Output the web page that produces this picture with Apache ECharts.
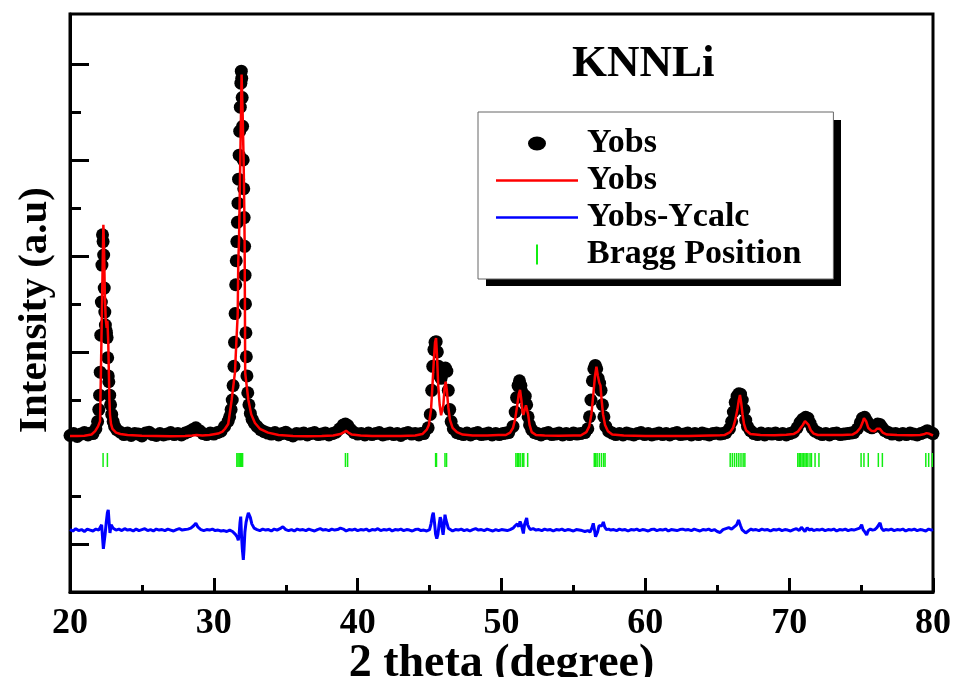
<!DOCTYPE html>
<html>
<head>
<meta charset="utf-8">
<title>KNNLi Rietveld</title>
<script src="https://cdn.jsdelivr.net/npm/echarts@6/dist/echarts.min.js"></script>
<style>
  html, body { margin: 0; padding: 0; background: #fff; }
  #chart { width: 957px; height: 677px; }
</style>
</head>
<body>
<div id="chart"></div>
<script>
// y axis ticks (no labels in the figure); the one at 3000 sits under the data band
const majorTicks = [1000, 5000, 7000, 9000, 11000]
const minorTicks = [2000, 4000, 6000, 8000, 10000]

// observed pattern, background between peaks  [2theta, intensity]
const obsBackground = [
  [20.0,3260],[20.25,3300],[20.5,3240],[20.75,3290],[21.0,3320],[21.25,3270],[21.45,3310],
  [23.5,3330],[23.75,3280],[24.0,3310],[24.25,3260],[24.5,3300],[24.75,3290],[25.0,3250],[25.25,3310],
  [25.5,3330],[25.75,3280],[26.0,3260],[26.25,3300],[26.5,3270],[26.75,3290],[27.0,3320],[27.25,3280],
  [27.5,3300],[27.75,3270],[28.0,3310],[28.25,3340],[28.5,3380],[28.75,3420],[29.0,3360],[29.25,3300],
  [29.5,3280],[29.75,3310],[30.0,3290],[30.25,3320],[30.5,3350],[30.75,3450],[31.0,3560],
  [33.25,3380],[33.5,3340],[33.75,3310],[34.0,3290],[34.25,3320],[34.5,3270],[34.75,3300],[35.0,3330],
  [35.25,3280],[35.5,3250],[35.75,3300],[36.0,3290],[36.25,3310],[36.5,3270],[36.75,3300],[37.0,3320],
  [37.25,3280],[37.5,3290],[37.75,3310],[38.0,3270],[38.25,3300],[38.5,3330],[38.75,3400],[39.0,3480],
  [39.15,3500],[39.3,3470],[39.5,3390],[39.75,3320],[40.0,3290],[40.25,3300],[40.5,3270],[40.75,3310],
  [41.0,3280],[41.25,3300],[41.5,3320],[41.75,3270],[42.0,3290],[42.25,3310],[42.5,3280],[42.75,3300],
  [43.0,3260],[43.25,3300],[43.5,3320],[43.75,3290],[44.0,3300],[44.25,3270],[44.4,3300],
  [47.1,3300],[47.35,3280],[47.6,3310],[47.85,3270],[48.1,3300],[48.35,3320],[48.6,3280],[48.85,3290],
  [49.1,3310],[49.35,3270],[49.6,3300],[49.85,3280],[50.1,3300],[50.3,3310],
  [52.5,3300],[52.75,3270],[53.0,3300],[53.25,3320],[53.5,3280],[53.75,3290],[54.0,3310],[54.25,3270],
  [54.5,3300],[54.75,3280],[55.0,3310],[55.25,3290],[55.5,3300],
  [57.7,3310],[57.95,3280],[58.2,3300],[58.45,3270],[58.7,3310],[58.95,3290],[59.2,3270],[59.45,3300],
  [59.7,3320],[59.95,3280],[60.2,3300],[60.45,3270],[60.7,3290],[60.95,3310],[61.2,3280],[61.45,3300],
  [61.7,3270],[61.95,3300],[62.2,3320],[62.45,3280],[62.7,3290],[62.95,3310],[63.2,3270],[63.45,3300],
  [63.7,3280],[63.95,3310],[64.2,3290],[64.45,3270],[64.7,3300],[64.95,3310],[65.2,3290],[65.4,3300],
  [67.55,3300],[67.8,3280],[68.05,3310],[68.3,3270],[68.55,3300],[68.8,3290],[69.05,3310],[69.3,3280],
  [69.55,3300],[69.8,3270],[70.05,3300],
  [72.05,3310],[72.3,3280],[72.55,3300],[72.8,3270],[73.05,3300],[73.3,3310],[73.55,3280],[73.8,3290],
  [74.05,3300],[74.3,3310],
  [77.15,3290],[77.4,3300],[77.65,3270],[77.9,3300],[78.15,3280],[78.4,3310],[78.65,3290],[78.9,3270],
  [79.15,3300],[79.4,3330],[79.6,3360],[79.8,3330],[80.0,3300]
]

// observed pattern, peak regions
const obs22 = [
  [21.6,3300],[21.8,3400],[21.92,3550],[22.0,3800],[22.06,4100],[22.1,4580],[22.14,5350],[22.18,6040],
  [22.22,6810],[22.26,7440],[22.3,7300],[22.34,7020],[22.38,6330],[22.42,5830],[22.46,5560],[22.5,5450],
  [22.54,5400],[22.58,5300],[22.62,4880],[22.66,4500],[22.7,4380],[22.76,4100],[22.82,3900],[22.9,3700],
  [23.0,3550],[23.1,3450],[23.25,3380]
]
const obs32 = [
  [31.1,3650],[31.2,3800],[31.28,4000],[31.34,4300],[31.4,4700],[31.44,5200],[31.48,5800],[31.52,6400],
  [31.56,6900],[31.6,7300],[31.64,7700],[31.68,8100],[31.72,8600],[31.76,9100],[31.8,9600],[31.84,10100],
  [31.88,10600],[31.91,10850],[31.94,10700],[31.97,10300],[32.0,9700],[32.04,9000],[32.08,8400],
  [32.11,7800],[32.14,7200],[32.17,6600],[32.2,6000],[32.23,5400],[32.26,4900],[32.3,4500],[32.36,4150],
  [32.44,3900],[32.54,3720],[32.66,3600],[32.8,3520],[33.0,3450]
]
const obs45 = [
  [44.6,3300],[44.9,3420],[45.05,3700],[45.15,4200],[45.22,4700],[45.3,5050],[45.38,5200],[45.46,5215],
  [45.54,5000],[45.62,4700],[45.7,4500],[45.8,4450],[45.9,4550],[46.0,4650],[46.1,4666],[46.2,4600],
  [46.3,4200],[46.4,3800],[46.5,3550],[46.65,3400],[46.9,3320]
]
const obs51 = [
  [50.5,3320],[50.8,3450],[50.95,3750],[51.05,4050],[51.15,4300],[51.25,4400],[51.35,4300],[51.45,4150],
  [51.55,4100],[51.65,4080],[51.75,3900],[51.85,3650],[51.95,3480],[52.1,3380],[52.3,3320]
]
const obs56 = [
  [55.8,3320],[56.0,3400],[56.12,3650],[56.22,4000],[56.32,4400],[56.42,4650],[56.52,4720],[56.62,4650],
  [56.72,4450],[56.82,4350],[56.92,4200],[57.02,3900],[57.12,3650],[57.25,3450],[57.45,3350]
]
const obs66 = [
  [65.6,3320],[65.85,3400],[66.0,3550],[66.12,3750],[66.25,3950],[66.38,4080],[66.5,4130],[66.62,4120],
  [66.74,4000],[66.86,3800],[66.98,3580],[67.1,3450],[67.3,3360]
]
const obs71 = [
  [70.3,3330],[70.55,3420],[70.75,3530],[70.95,3600],[71.15,3640],[71.3,3620],[71.45,3520],[71.6,3420],
  [71.8,3350]
]
const obs75 = [
  [74.5,3320],[74.75,3400],[74.95,3530],[75.1,3620],[75.25,3640],[75.4,3560],[75.55,3450],[75.75,3420],
  [75.95,3450],[76.15,3500],[76.3,3490],[76.45,3430],[76.65,3360],[76.9,3320]
]

// calculated profile (red line)
const calcProfile = [
  [20.0,3250],[20.5,3250],[21.0,3255],[21.5,3280],[21.75,3350],[21.95,3450],[22.09,3560],[22.15,4600],
  [22.2,5500],[22.26,6600],[22.32,7650],[22.37,7100],[22.42,6200],[22.48,5700],[22.55,5500],[22.6,5650],
  [22.66,5200],[22.7,4600],[22.74,4000],[22.78,3690],[22.85,3500],[22.95,3400],[23.2,3320],[23.5,3290],
  [24.0,3270],[25.0,3255],[26.0,3250],[27.0,3245],[28.0,3250],[28.5,3260],[28.8,3270],[29.2,3260],
  [29.7,3270],[30.0,3285],[30.3,3300],[30.6,3340],[30.78,3400],[31.0,3500],[31.24,4000],[31.47,4580],
  [31.58,5300],[31.66,5780],[31.7,6900],[31.75,7300],[31.84,9000],[31.93,10780],[32.0,10000],
  [32.07,9000],[32.12,7900],[32.14,7300],[32.16,6000],[32.18,4560],[32.4,4000],[32.6,3700],[32.86,3520],
  [33.2,3400],[33.77,3320],[34.5,3270],[35.5,3250],[36.5,3245],[37.5,3250],[38.3,3260],[38.8,3290],
  [39.05,3330],[39.2,3360],[39.35,3320],[39.6,3280],[40.2,3260],[41.0,3250],[42.0,3250],[43.0,3250],
  [44.0,3260],[44.5,3290],[44.8,3380],[44.95,3480],[45.1,3800],[45.2,4300],[45.3,4850],[45.38,5200],
  [45.45,5290],[45.52,4900],[45.6,4300],[45.7,3900],[45.8,3680],[45.88,3700],[45.96,3900],[46.04,4250],
  [46.12,4380],[46.2,4200],[46.3,3850],[46.42,3580],[46.6,3420],[46.9,3330],[47.3,3280],[48.0,3260],
  [49.0,3260],[49.8,3270],[50.3,3270],[50.6,3320],[50.8,3420],[50.95,3600],[51.1,3900],[51.2,4120],
  [51.29,4208],[51.38,4000],[51.46,3750],[51.52,3690],[51.6,3780],[51.7,3890],[51.76,3900],[51.85,3700],
  [51.95,3480],[52.1,3330],[52.4,3270],[53.0,3260],[54.0,3255],[55.0,3260],[55.5,3260],[55.9,3330],
  [56.1,3450],[56.25,3700],[56.38,4100],[56.5,4500],[56.6,4694],[56.7,4500],[56.8,4360],[56.88,4300],
  [56.96,4000],[57.06,3700],[57.2,3480],[57.4,3350],[57.7,3280],[58.5,3260],[60.0,3250],[61.5,3250],
  [63.0,3250],[64.5,3260],[65.2,3265],[65.5,3270],[65.9,3330],[66.1,3420],[66.25,3580],[66.4,3800],
  [66.5,4000],[66.58,4104],[66.66,3950],[66.76,3700],[66.86,3500],[67.0,3370],[67.3,3290],[68.0,3270],
  [69.0,3265],[69.8,3275],[70.3,3290],[70.6,3340],[70.8,3420],[70.95,3480],[71.1,3560],[71.22,3590],
  [71.35,3480],[71.5,3370],[71.7,3300],[72.0,3270],[72.8,3270],[73.7,3270],[74.4,3280],[74.7,3330],
  [74.95,3420],[75.1,3530],[75.2,3620],[75.27,3650],[75.36,3550],[75.5,3420],[75.7,3360],[75.95,3350],
  [76.1,3400],[76.2,3440],[76.3,3400],[76.5,3320],[76.8,3280],[77.5,3270],[78.5,3265],[79.1,3270],
  [79.35,3285],[79.55,3310],[79.75,3295],[80.0,3260]
]

// difference curve (blue)
const diffCurve = [
  [20.0,1300],[20.2,1270],[20.4,1320],[20.6,1280],[20.8,1300],[21.0,1260],[21.2,1310],[21.4,1290],
  [21.6,1270],[21.8,1310],[22.0,1290],[22.12,1330],[22.2,1400],[22.26,1150],[22.32,900],[22.37,880],
  [22.44,1200],[22.52,1450],[22.6,1650],[22.66,1710],[22.72,1450],[22.78,1230],[22.86,1400],[22.92,1440],
  [23.0,1330],[23.1,1300],[23.2,1290],[23.4,1310],[23.6,1280],[23.8,1320],[24.0,1290],[24.2,1300],
  [24.4,1270],[24.6,1310],[24.8,1280],[25.0,1300],[25.2,1320],[25.4,1280],[25.6,1300],[25.8,1270],
  [26.0,1310],[26.2,1290],[26.4,1300],[26.6,1280],[26.8,1310],[27.0,1290],[27.2,1270],[27.4,1300],
  [27.6,1320],[27.8,1290],[28.0,1300],[28.2,1310],[28.4,1330],[28.6,1380],[28.75,1430],[28.9,1350],
  [29.1,1300],[29.3,1280],[29.5,1300],[29.7,1290],[29.9,1310],[30.1,1280],[30.3,1290],[30.5,1270],
  [30.7,1280],[30.9,1260],[31.1,1290],[31.3,1260],[31.5,1200],[31.62,1150],[31.7,1080],[31.76,1200],
  [31.82,1450],[31.87,1570],[31.92,1200],[31.98,900],[32.05,670],[32.1,900],[32.16,1250],[32.24,1450],
  [32.32,1560],[32.4,1650],[32.46,1670],[32.54,1550],[32.64,1420],[32.8,1330],[33.0,1300],[33.2,1280],
  [33.4,1310],[33.6,1290],[33.8,1300],[34.0,1270],[34.2,1310],[34.4,1290],[34.6,1320],[34.8,1360],
  [35.0,1300],[35.2,1280],[35.4,1300],[35.6,1270],[35.8,1310],[36.0,1290],[36.2,1300],[36.4,1280],
  [36.6,1310],[36.8,1290],[37.0,1270],[37.2,1300],[37.4,1320],[37.6,1290],[37.8,1300],[38.0,1280],
  [38.2,1310],[38.4,1290],[38.6,1300],[38.8,1330],[39.0,1310],[39.2,1270],[39.4,1300],[39.6,1290],
  [39.8,1310],[40.0,1280],[40.2,1300],[40.4,1290],[40.6,1310],[40.8,1270],[41.0,1300],[41.2,1290],
  [41.4,1320],[41.6,1280],[41.8,1300],[42.0,1290],[42.2,1310],[42.4,1270],[42.6,1300],[42.8,1290],
  [43.0,1310],[43.2,1280],[43.4,1300],[43.6,1290],[43.8,1270],[44.0,1300],[44.2,1310],[44.4,1280],
  [44.6,1290],[44.8,1270],[45.0,1300],[45.1,1420],[45.2,1600],[45.26,1650],[45.34,1450],[45.42,1200],
  [45.5,1110],[45.58,1200],[45.66,1400],[45.74,1560],[45.8,1500],[45.88,1300],[45.94,1190],[46.0,1350],
  [46.07,1610],[46.14,1500],[46.22,1420],[46.3,1330],[46.42,1300],[46.6,1270],[46.8,1300],[47.0,1290],
  [47.2,1310],[47.4,1280],[47.6,1300],[47.8,1270],[48.0,1300],[48.2,1320],[48.4,1290],[48.6,1300],
  [48.8,1280],[49.0,1310],[49.2,1290],[49.4,1270],[49.6,1300],[49.8,1280],[50.0,1300],[50.2,1290],
  [50.4,1280],[50.6,1300],[50.8,1330],[50.95,1380],[51.1,1420],[51.2,1360],[51.29,1470],[51.38,1400],
  [51.46,1300],[51.52,1220],[51.6,1400],[51.68,1480],[51.75,1540],[51.82,1400],[51.9,1350],[52.0,1300],
  [52.2,1320],[52.4,1290],[52.6,1300],[52.8,1280],[53.0,1310],[53.2,1290],[53.4,1300],[53.6,1270],
  [53.8,1300],[54.0,1290],[54.2,1310],[54.4,1280],[54.6,1300],[54.8,1290],[55.0,1270],[55.2,1300],
  [55.4,1290],[55.6,1280],[55.8,1260],[56.0,1280],[56.15,1250],[56.28,1330],[56.38,1430],[56.46,1300],
  [56.54,1150],[56.6,1120],[56.68,1250],[56.78,1380],[56.88,1420],[56.98,1380],[57.08,1460],[57.18,1350],
  [57.3,1300],[57.45,1310],[57.6,1290],[57.8,1300],[58.0,1280],[58.2,1310],[58.4,1290],[58.6,1300],
  [58.8,1270],[59.0,1300],[59.2,1290],[59.4,1310],[59.6,1280],[59.8,1300],[60.0,1290],[60.2,1270],
  [60.4,1300],[60.6,1310],[60.8,1280],[61.0,1300],[61.2,1290],[61.4,1310],[61.6,1270],[61.8,1300],
  [62.0,1290],[62.2,1280],[62.4,1300],[62.6,1310],[62.8,1290],[63.0,1300],[63.2,1280],[63.4,1310],
  [63.6,1290],[63.8,1270],[64.0,1300],[64.2,1290],[64.4,1310],[64.6,1280],[64.8,1300],[65.0,1260],
  [65.2,1240],[65.4,1300],[65.6,1320],[65.8,1340],[66.0,1310],[66.2,1360],[66.35,1400],[66.48,1500],
  [66.54,1520],[66.62,1380],[66.72,1300],[66.85,1260],[66.98,1230],[67.09,1210],[67.2,1280],[67.35,1310],
  [67.5,1290],[67.7,1300],[67.9,1280],[68.1,1310],[68.3,1290],[68.5,1300],[68.7,1270],[68.9,1300],
  [69.1,1290],[69.3,1310],[69.5,1280],[69.7,1300],[69.9,1290],[70.1,1270],[70.3,1300],[70.5,1320],
  [70.7,1280],[70.85,1350],[70.98,1330],[71.1,1260],[71.25,1340],[71.4,1290],[71.55,1310],[71.7,1280],
  [71.9,1300],[72.1,1290],[72.3,1310],[72.5,1280],[72.7,1300],[72.9,1290],[73.1,1310],[73.3,1270],
  [73.5,1300],[73.7,1290],[73.9,1310],[74.1,1280],[74.3,1300],[74.5,1290],[74.7,1310],[74.9,1330],
  [75.04,1400],[75.14,1300],[75.26,1250],[75.39,1190],[75.5,1280],[75.65,1310],[75.8,1290],[75.95,1300],
  [76.1,1340],[76.22,1380],[76.32,1440],[76.42,1330],[76.55,1280],[76.7,1300],[76.9,1290],[77.1,1310],
  [77.3,1280],[77.5,1300],[77.7,1290],[77.9,1310],[78.1,1270],[78.3,1300],[78.5,1290],[78.7,1310],
  [78.9,1280],[79.1,1300],[79.3,1290],[79.5,1270],[79.7,1310],[79.9,1290],[80.0,1300]
]

// Bragg reflection positions (2theta) and the level the markers sit at
const braggPositions = [
  22.3, 22.6, 31.6, 31.68, 31.76, 31.84, 31.92, 32.0, 39.15, 39.3,
  45.42, 45.48, 46.07, 46.18, 51.0, 51.1, 51.2, 51.3, 51.45, 51.55, 51.82,
  56.45, 56.55, 56.65, 56.8, 56.95, 57.1, 57.2,
  65.9, 66.05, 66.2, 66.35, 66.5, 66.65, 66.8, 66.92,
  70.6, 70.7, 70.8, 70.9, 71.0, 71.1, 71.2, 71.3, 71.45, 71.55, 71.8, 72.07,
  75.0, 75.2, 75.5, 76.2, 76.48, 79.5, 79.7, 79.95
]
const braggLevel = 2750

const serif = '"Liberation Serif", "Times New Roman", serif'

const chart = echarts.init(document.getElementById('chart'))

const yObs = [].concat(obsBackground, obs22, obs32, obs45, obs51, obs56, obs66, obs71, obs75)
const braggData = braggPositions.map(function (x) { return [x, braggLevel] })
const legendText = { 'Ycalc': 'Yobs' }

// legend icons, padded with moveTo points so they keep their size inside the 82x20 box
const lineIcon = 'path://M0,0M82,20M0,8.8h82v2.4h-82z'

chart.setOption({
  animation: false,
  backgroundColor: '#fff',
  title: {
    text: 'KNNLi',
    left: 572,
    top: 42,
    padding: 0,
    textStyle: { fontFamily: serif, fontWeight: 'bold', fontSize: 45, color: '#000' }
  },
  // drop shadow behind the legend box
  graphic: [{
    type: 'rect',
    left: 486,
    top: 120,
    z: 0,
    shape: { width: 355, height: 166 },
    style: { fill: '#000' }
  }],
  legend: {
    orient: 'vertical',
    left: 478,
    top: 112,
    z: 10,
    padding: [13, 32, 6, 18],
    itemWidth: 82,
    itemHeight: 20,
    itemGap: 0,
    backgroundColor: '#fff',
    borderColor: '#666',
    borderWidth: 1,
    borderRadius: 0,
    textStyle: { fontFamily: serif, fontWeight: 'bold', fontSize: 34, color: '#000', lineHeight: 37, padding: [0, 0, 0, 4] },
    formatter: function (name) { return legendText[name] || name },
    data: [
      { name: 'Yobs', icon: 'path://M0,0M82,20M32,10a9,7 0 1,0 18,0a9,7 0 1,0 -18,0' },
      { name: 'Ycalc', icon: lineIcon },
      { name: 'Yobs-Ycalc', icon: lineIcon },
      { name: 'Bragg Position', icon: 'path://M0,0M82,20M40,0h2v20h-2z' }
    ]
  },
  grid: {
    left: 70,
    right: 24,
    top: 14,
    bottom: 85,
    show: true,
    borderColor: '#000',
    borderWidth: 3,
    outerBoundsMode: 'none'
  },
  xAxis: {
    type: 'value',
    min: 20,
    max: 80,
    interval: 10,
    name: '2 theta (degree)',
    nameLocation: 'middle',
    nameGap: 49,
    nameMoveOverlap: false,
    nameTextStyle: { fontFamily: serif, fontWeight: 'bold', fontSize: 46, color: '#000' },
    axisLine: { onZero: false, lineStyle: { color: '#000', width: 3 } },
    axisTick: { inside: true, length: 14, lineStyle: { color: '#000', width: 3 } },
    minorTick: { show: true, splitNumber: 2, length: 7, lineStyle: { color: '#000', width: 3 } },
    axisLabel: { margin: 14, fontFamily: serif, fontWeight: 'bold', fontSize: 36, color: '#000' },
    splitLine: { show: false },
    minorSplitLine: { show: false }
  },
  yAxis: [
    {
      type: 'value',
      min: 0,
      max: 12040,
      name: 'Intensity (a.u)',
      nameLocation: 'middle',
      nameGap: 14,
      nameMoveOverlap: false,
      nameTextStyle: { fontFamily: serif, fontWeight: 'bold', fontSize: 41, color: '#000', padding: [0, 14, 0, 0] },
      axisLine: { show: true, onZero: false, lineStyle: { color: '#000', width: 3 } },
      axisTick: { show: true, inside: true, length: 19, customValues: majorTicks, lineStyle: { color: '#000', width: 3 } },
      axisLabel: { show: false },
      splitLine: { show: false }
    },
    {
      type: 'value',
      min: 0,
      max: 12040,
      position: 'left',
      axisLine: { show: false },
      axisTick: { show: true, inside: true, length: 11, customValues: minorTicks, lineStyle: { color: '#000', width: 3 } },
      axisLabel: { show: false },
      splitLine: { show: false }
    }
  ],
  series: [
    {
      name: 'Yobs',
      type: 'scatter',
      data: yObs,
      symbol: 'circle',
      symbolSize: 13,
      itemStyle: { color: '#000', opacity: 1 },
      emphasis: { disabled: true }
    },
    {
      name: 'Ycalc',
      type: 'line',
      data: calcProfile,
      symbol: 'none',
      lineStyle: { color: '#ff0000', width: 2.5 },
      itemStyle: { color: '#ff0000' }
    },
    {
      name: 'Yobs-Ycalc',
      type: 'line',
      data: diffCurve,
      symbol: 'none',
      lineStyle: { color: '#0000ff', width: 3 },
      itemStyle: { color: '#0000ff' }
    },
    {
      name: 'Bragg Position',
      type: 'scatter',
      data: braggData,
      symbol: 'rect',
      symbolSize: [1.5, 14],
      itemStyle: { color: '#11ee11', opacity: 1 }
    }
  ]
})
</script>
</body>
</html>
